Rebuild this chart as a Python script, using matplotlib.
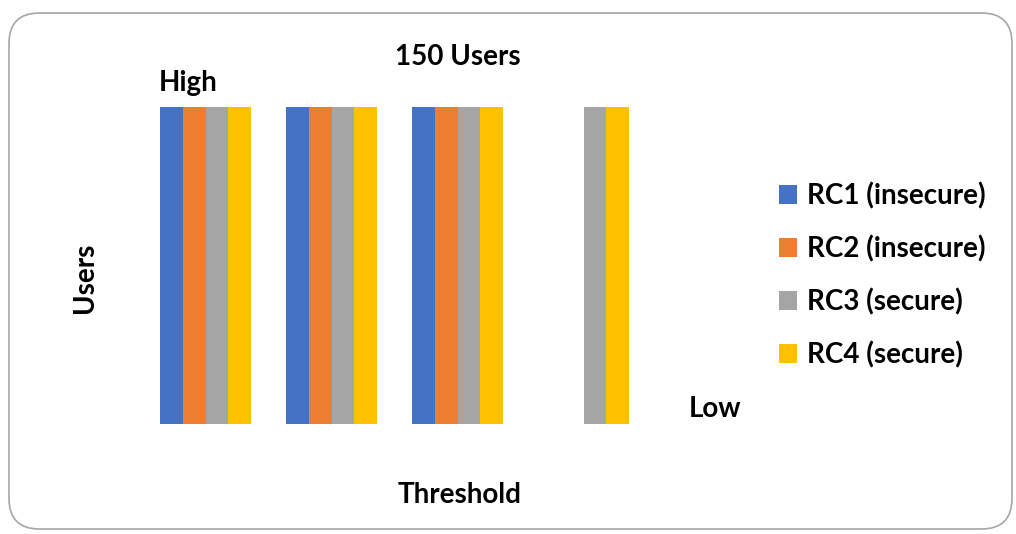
import matplotlib
matplotlib.use("Agg")
import matplotlib.pyplot as plt
from matplotlib.patches import FancyBboxPatch, Patch
import numpy as np

plt.rcParams['font.family'] = ['Lato', 'DejaVu Sans']

groups = ["T1", "T2", "T3", "T4"]
series_names = ["RC1 (insecure)", "RC2 (insecure)", "RC3 (secure)", "RC4 (secure)"]
rc1 = [150, 150, 150, 0]
rc2 = [150, 150, 150, 0]
rc3 = [150, 150, 150, 150]
rc4 = [150, 150, 150, 150]
colors = ["#4472C4", "#ED7D31", "#A5A5A5", "#FFC000"]

W, H = 1016, 534
fig = plt.figure(figsize=(W / 100, H / 100), dpi=100)

# rounded border
border = FancyBboxPatch((9 / W, 5 / H), (1003 / W), (516 / H),
                        boxstyle="round,pad=0,rounding_size=0.03",
                        transform=fig.transFigure, fill=False,
                        edgecolor="#A6A6A6", linewidth=1.2, mutation_aspect=W / H)
fig.patches.append(border)

ax = fig.add_axes([142.5 / W, 1 - 424 / H, 504 / W, 317 / H])
x = np.arange(len(groups))
bw = 0.18
data = [rc1, rc2, rc3, rc4]
for i, (vals, c) in enumerate(zip(data, colors)):
    ax.bar(x + (i - 1.5) * bw, vals, width=bw, color=c, linewidth=0)
ax.set_xlim(-0.5, len(groups) - 0.5)
ax.set_ylim(0, 150)
ax.axis("off")

fs = 20
fw = "bold"
fig.text(458 / W, 1 - 57 / H, "150 Users", ha="center", va="center", fontsize=fs, fontweight=fw)
fig.text(188 / W, 1 - 83 / H, "High", ha="center", va="center", fontsize=fs, fontweight=fw)
fig.text(715 / W, 1 - 409 / H, "Low", ha="center", va="center", fontsize=fs, fontweight=fw)
fig.text(460 / W, 1 - 495 / H, "Threshold", ha="center", va="center", fontsize=fs, fontweight=fw)
fig.text(85 / W, 1 - 278 / H, "Users", ha="center", va="center", rotation=90, fontsize=fs, fontweight=fw)

handles = [Patch(facecolor=c, edgecolor="none") for c in colors]
leg = fig.legend(handles, series_names, loc="upper left",
                 bbox_to_anchor=(754 / W, 1 - 157 / H), frameon=False,
                 handlelength=0.65, handleheight=0.65, handletextpad=0.35,
                 labelspacing=0.93, prop={"size": fs, "weight": fw})

fig.savefig("out.png", dpi=100)
